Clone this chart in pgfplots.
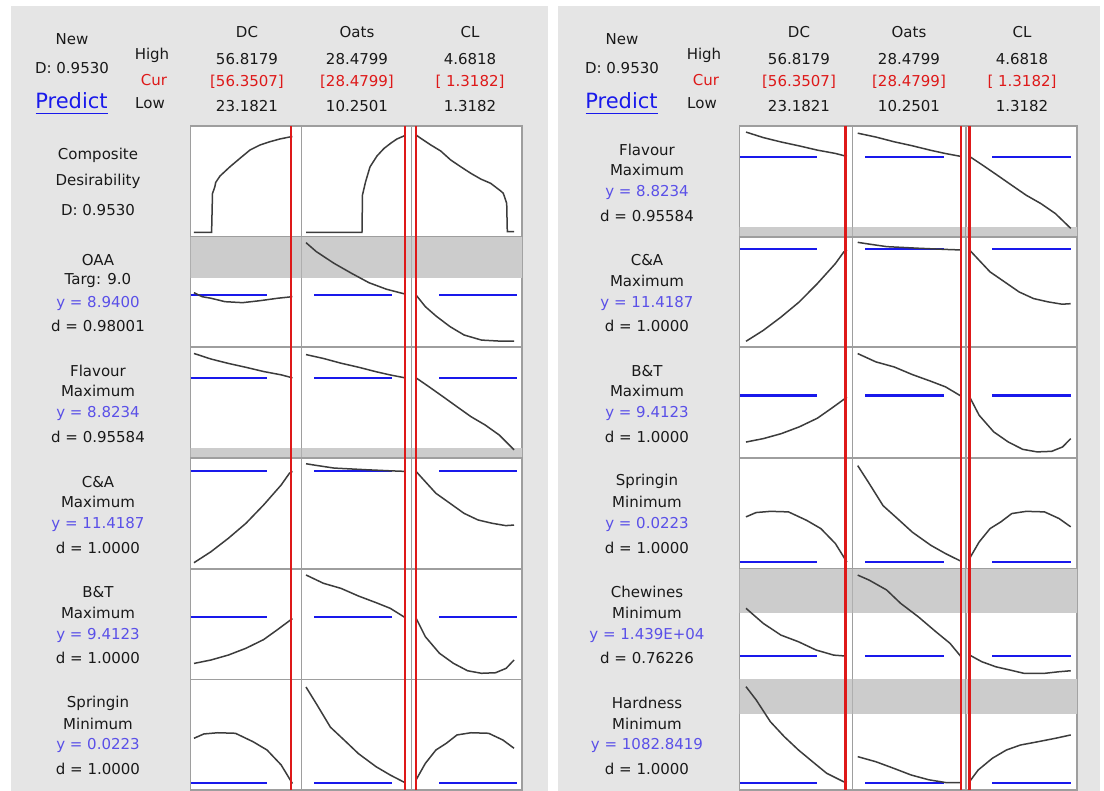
\documentclass[border=0pt]{standalone}
\usepackage{pgfplots}
\pgfplotsset{compat=1.18}
\usepackage{pgfplotstable}
\usepackage{fontspec}
\setmainfont{DejaVu Sans}

\definecolor{panelgray}{RGB}{229,229,229}
\definecolor{framegray}{RGB}{158,158,158}
\definecolor{bandgray}{RGB}{204,204,204}
\definecolor{curvegray}{RGB}{60,60,60}
\definecolor{mtblue}{RGB}{25,25,235}
\definecolor{mtred}{RGB}{222,25,25}
\definecolor{ycol}{RGB}{90,80,232}
\definecolor{txt}{RGB}{25,25,25}

\pgfplotsset{
 cell/.style={scale only axis, height=110.7pt, ymin=0, ymax=1, ticks=none,
   axis line style={draw=framegray, line width=1.8pt},
   axis background/.style={fill=white}, anchor=south west},
 curve/.style={curvegray, line width=1.5pt},
 tgt/.style={mtblue, line width=2.2pt},
 band/.style={fill=bandgray, draw=none},
 redl/.style={mtred, line width=2.4pt},
}

% ---------- data (x in factor units, y as fraction of cell height) ----------
\pgfplotstableread[row sep=\\]{x y\\ 23.18 0.04\\ 29.2 0.04\\ 29.5 0.39\\ 30.3 0.45\\ 30.6 0.49\\ 32.07 0.548\\ 35.49 0.632\\ 38.90 0.708\\ 42.32 0.783\\ 45.74 0.828\\ 49.16 0.858\\ 52.58 0.883\\ 56.35 0.903\\ 56.82 0.905\\}\CompDC
\pgfplotstableread[row sep=\\]{x y\\ 10.25 0.04\\ 20.56 0.04\\ 20.65 0.377\\ 21.21 0.494\\ 22.03 0.63\\ 23.32 0.729\\ 24.61 0.797\\ 25.90 0.846\\ 27.01 0.883\\ 28.48 0.914\\}\CompOats
\pgfplotstableread[row sep=\\]{x y\\ 1.318 0.919\\ 1.479 0.889\\ 1.823 0.829\\ 2.166 0.774\\ 2.509 0.693\\ 2.852 0.632\\ 3.196 0.573\\ 3.539 0.521\\ 3.882 0.482\\ 4.225 0.413\\ 4.314 0.392\\ 4.431 0.302\\ 4.452 0.045\\ 4.682 0.045\\}\CompCL

\pgfplotstableread[row sep=\\]{x y\\ 23.18 0.494\\ 25.94 0.458\\ 28.97 0.444\\ 33.78 0.413\\ 39.76 0.404\\ 45.79 0.422\\ 51.81 0.444\\ 56.82 0.458\\}\OaaDC
\pgfplotstableread[row sep=\\]{x y\\ 10.25 0.946\\ 12.15 0.865\\ 15.39 0.760\\ 18.64 0.669\\ 21.86 0.584\\ 25.09 0.525\\ 28.48 0.482\\}\OaaOats
\pgfplotstableread[row sep=\\]{x y\\ 1.318 0.473\\ 1.638 0.368\\ 2.001 0.284\\ 2.482 0.188\\ 2.966 0.112\\ 3.565 0.066\\ 4.171 0.057\\ 4.682 0.057\\}\OaaCL

\pgfplotstableread[row sep=\\]{x y\\ 23.18 0.945\\ 28.97 0.895\\ 34.95 0.855\\ 40.94 0.82\\ 46.96 0.782\\ 52.98 0.752\\ 56.82 0.725\\}\FlaDC
\pgfplotstableread[row sep=\\]{x y\\ 10.25 0.935\\ 13.46 0.9\\ 16.70 0.857\\ 19.91 0.821\\ 23.16 0.78\\ 25.76 0.751\\ 28.48 0.725\\}\FlaOats
\pgfplotstableread[row sep=\\]{x y\\ 1.318 0.725\\ 1.759 0.645\\ 2.243 0.555\\ 2.724 0.464\\ 3.205 0.374\\ 3.690 0.299\\ 4.171 0.209\\ 4.682 0.075\\}\FlaCL

\pgfplotstableread[row sep=\\]{x y\\ 23.18 0.055\\ 28.97 0.154\\ 34.95 0.276\\ 40.94 0.411\\ 46.96 0.576\\ 52.98 0.757\\ 55.81 0.863\\ 56.82 0.88\\}\CaDC
\pgfplotstableread[row sep=\\]{x y\\ 10.25 0.949\\ 12.15 0.934\\ 15.39 0.91\\ 21.22 0.895\\ 25.76 0.885\\ 28.48 0.88\\}\CaOats
\pgfplotstableread[row sep=\\]{x y\\ 1.318 0.88\\ 1.638 0.787\\ 2.001 0.682\\ 2.482 0.592\\ 2.966 0.501\\ 3.447 0.441\\ 3.932 0.411\\ 4.4 0.39\\ 4.682 0.395\\}\CaCL

\pgfplotstableread[row sep=\\]{x y\\ 23.18 0.145\\ 28.97 0.176\\ 34.95 0.221\\ 40.94 0.282\\ 46.96 0.36\\ 51.81 0.452\\ 55.78 0.53\\ 56.82 0.55\\}\BtDC
\pgfplotstableread[row sep=\\]{x y\\ 10.25 0.944\\ 13.46 0.869\\ 16.70 0.823\\ 19.91 0.754\\ 23.16 0.694\\ 25.76 0.643\\ 28.48 0.56\\}\BtOats
\pgfplotstableread[row sep=\\]{x y\\ 1.318 0.555\\ 1.638 0.387\\ 2.122 0.237\\ 2.603 0.146\\ 3.087 0.079\\ 3.565 0.056\\ 4.049 0.061\\ 4.413 0.101\\ 4.682 0.176\\}\BtCL

\pgfplotstableread[row sep=\\]{x y\\ 23.18 0.469\\ 26.55 0.508\\ 31.32 0.519\\ 37.34 0.514\\ 43.36 0.438\\ 48.14 0.363\\ 52.98 0.228\\ 56.82 0.06\\}\SpDC
\pgfplotstableread[row sep=\\]{x y\\ 10.25 0.932\\ 12.15 0.781\\ 14.73 0.57\\ 17.34 0.45\\ 19.91 0.33\\ 23.16 0.212\\ 25.76 0.137\\ 28.48 0.068\\}\SpOats
\pgfplotstableread[row sep=\\]{x y\\ 1.318 0.092\\ 1.638 0.242\\ 2.001 0.363\\ 2.361 0.424\\ 2.724 0.499\\ 3.205 0.519\\ 3.811 0.514\\ 4.295 0.454\\ 4.682 0.379\\}\SpCL

\pgfplotstableread[row sep=\\]{x y\\ 23.18 0.643\\ 28.93 0.507\\ 34.82 0.401\\ 40.67 0.341\\ 46.56 0.266\\ 52.45 0.22\\ 56.82 0.211\\}\ChDC
\pgfplotstableread[row sep=\\]{x y\\ 10.25 0.943\\ 12.22 0.899\\ 15.34 0.809\\ 17.82 0.688\\ 20.93 0.567\\ 24.03 0.432\\ 26.53 0.327\\ 28.48 0.206\\}\ChOats
\pgfplotstableread[row sep=\\]{x y\\ 1.318 0.221\\ 1.722 0.161\\ 2.189 0.115\\ 2.654 0.086\\ 3.121 0.056\\ 3.827 0.056\\ 4.292 0.07\\ 4.682 0.079\\}\ChCL

\pgfplotstableread[row sep=\\]{x y\\ 23.18 0.935\\ 26.58 0.815\\ 31.29 0.619\\ 35.96 0.483\\ 40.67 0.363\\ 45.38 0.257\\ 50.06 0.153\\ 55.67 0.077\\ 56.82 0.07\\}\HaDC
\pgfplotstableread[row sep=\\]{x y\\ 10.25 0.303\\ 13.46 0.257\\ 16.58 0.198\\ 19.69 0.137\\ 22.79 0.094\\ 25.89 0.068\\ 28.48 0.068\\}\HaOats
\pgfplotstableread[row sep=\\]{x y\\ 1.318 0.077\\ 1.604 0.182\\ 2.075 0.288\\ 2.543 0.363\\ 3.010 0.408\\ 3.595 0.438\\ 4.177 0.469\\ 4.682 0.499\\}\HaCL

% ---------- helpers ----------
\newcommand{\cell}[6]{\begin{axis}[cell, at={(#1pt,#2pt)}, width=#3pt, xmin=#4, xmax=#5]#6\end{axis}}
\newcommand{\cLA}[2]{\cell{190.5}{#1}{111}{21.985}{59.929}{#2}}
\newcommand{\cLB}[2]{\cell{301.5}{#1}{110}{9.4215}{29.677}{#2}}
\newcommand{\cLC}[2]{\cell{411.5}{#1}{110.5}{1.1637}{4.9564}{#2}}
\newcommand{\cRA}[2]{\cell{739.5}{#1}{113}{21.015}{58.685}{#2}}
\newcommand{\cRB}[2]{\cell{852.5}{#1}{113.5}{9.332}{29.362}{#2}}
\newcommand{\cRC}[2]{\cell{966}{#1}{111}{1.2019}{4.8912}{#2}}
\newcommand{\tg}[3]{\addplot[tgt] coordinates {(#1,#3) (#2,#3)};}
\newcommand{\tLA}[1]{\tg{21.985}{48.13}{#1}}
\newcommand{\tLB}[1]{\tg{11.723}{26.086}{#1}}
\newcommand{\tLC}[1]{\tg{2.1076}{4.7848}{#1}}
\newcommand{\tRA}[1]{\tg{21.18}{46.85}{#1}}
\newcommand{\tRB}[1]{\tg{11.538}{25.48}{#1}}
\newcommand{\tRC}[1]{\tg{2.066}{4.692}{#1}}
\newcommand{\bd}[2]{\addplot[band] coordinates {(-100,#1) (100,#1) (100,#2) (-100,#2)};}
\newcommand{\cv}[1]{\addplot[curve] table[x=x,y=y]{#1};}
\newcommand{\redax}[5]{\begin{axis}[hide axis, scale only axis, anchor=south west, at={(#1pt,0.8pt)}, width=#2pt, height=664.2pt, xmin=#3, xmax=#4, ymin=0, ymax=1]\addplot[redl] coordinates {(#5,0) (#5,1)};\end{axis}}

\newcommand{\lab}{\fontsize{15}{18}\selectfont}
\tikzset{t/.style={font=\lab, text=txt, inner sep=0pt, anchor=center}}
\newcommand{\rl}[6]{\begin{scope}[shift={(#1pt,#2pt)}]
 \node[t] at (0pt,-23.5pt) {#3};
 \node[t] at (0pt,-44pt) {#4};
 \node[t,text=ycol] at (0pt,-66.5pt) {#5};
 \node[t] at (0pt,-89.5pt) {#6};\end{scope}}
\newcommand{\hdr}[5]{%
 \node[t] at (#1pt,759.3pt) {#2};
 \node[t] at (#1pt,732.3pt) {#3};
 \node[t,text=mtred] at (#1pt,709.3pt) {#4};
 \node[t] at (#1pt,685pt) {#5};}
\newcommand{\corner}[2]{%
 \node[t] at (#1pt,752pt) {New};
 \node[t] at (#1pt,722.7pt) {D: 0.9530};
 \node[t,font=\fontsize{21}{24}\selectfont,text=mtblue] at ({#1pt-0.5pt},690.5pt) {Predict};
 \draw[mtblue, line width=1.2pt] ({#1pt-36.5pt},677.7pt) -- ({#1pt+36pt},677.7pt);
 \node[t] at (#2pt,736pt) {High};
 \node[t,text=mtred] at ({#2pt+2pt},711pt) {Cur};
 \node[t] at ({#2pt-2pt},687.7pt) {Low};}

\begin{document}
\begin{tikzpicture}
\useasboundingbox (0pt,0pt) rectangle (1104pt,791pt);
\fill[white] (0pt,0pt) rectangle (1104pt,791pt);
\fill[panelgray] (10.5pt,0pt) rectangle (548.3pt,785pt);
\fill[panelgray] (558.3pt,0pt) rectangle (1100pt,785pt);

% ===== left panel =====
\cLA{554.3}{\cv{\CompDC}}
\cLB{554.3}{\cv{\CompOats}}
\cLC{554.3}{\cv{\CompCL}}
\cLA{443.6}{\bd{0.624}{1}\tLA{0.473}\cv{\OaaDC}}
\cLB{443.6}{\bd{0.624}{1}\tLB{0.473}\cv{\OaaOats}}
\cLC{443.6}{\bd{0.624}{1}\tLC{0.473}\cv{\OaaCL}}
\cLA{332.9}{\bd{0}{0.089}\tLA{0.72}\cv{\FlaDC}}
\cLB{332.9}{\bd{0}{0.089}\tLB{0.72}\cv{\FlaOats}}
\cLC{332.9}{\bd{0}{0.089}\tLC{0.72}\cv{\FlaCL}}
\cLA{222.2}{\tLA{0.886}\cv{\CaDC}}
\cLB{222.2}{\tLB{0.886}\cv{\CaOats}}
\cLC{222.2}{\tLC{0.886}\cv{\CaCL}}
\cLA{111.5}{\tLA{0.566}\cv{\BtDC}}
\cLB{111.5}{\tLB{0.566}\cv{\BtOats}}
\cLC{111.5}{\tLC{0.566}\cv{\BtCL}}
\cLA{0.8}{\tLA{0.064}\cv{\SpDC}}
\cLB{0.8}{\tLB{0.064}\cv{\SpOats}}
\cLC{0.8}{\tLC{0.064}\cv{\SpCL}}

% ===== right panel =====
\cRA{554.3}{\bd{0}{0.089}\tRA{0.72}\cv{\FlaDC}}
\cRB{554.3}{\bd{0}{0.089}\tRB{0.72}\cv{\FlaOats}}
\cRC{554.3}{\bd{0}{0.089}\tRC{0.72}\cv{\FlaCL}}
\cRA{443.6}{\tRA{0.886}\cv{\CaDC}}
\cRB{443.6}{\tRB{0.886}\cv{\CaOats}}
\cRC{443.6}{\tRC{0.886}\cv{\CaCL}}
\cRA{332.9}{\tRA{0.566}\cv{\BtDC}}
\cRB{332.9}{\tRB{0.566}\cv{\BtOats}}
\cRC{332.9}{\tRC{0.566}\cv{\BtCL}}
\cRA{222.2}{\tRA{0.064}\cv{\SpDC}}
\cRB{222.2}{\tRB{0.064}\cv{\SpOats}}
\cRC{222.2}{\tRC{0.064}\cv{\SpCL}}
\cRA{111.5}{\bd{0.603}{1}\tRA{0.215}\cv{\ChDC}}
\cRB{111.5}{\bd{0.603}{1}\tRB{0.215}\cv{\ChOats}}
\cRC{111.5}{\bd{0.603}{1}\tRC{0.215}\cv{\ChCL}}
\cRA{0.8}{\bd{0.688}{1}\tRA{0.068}\cv{\HaDC}}
\cRB{0.8}{\bd{0.688}{1}\tRB{0.068}\cv{\HaOats}}
\cRC{0.8}{\bd{0.688}{1}\tRC{0.068}\cv{\HaCL}}

% ===== current-setting lines =====
\redax{190.5}{111}{21.985}{59.929}{56.3507}
\redax{301.5}{110}{9.4215}{29.677}{28.4799}
\redax{411.5}{110.5}{1.1637}{4.9564}{1.3182}
\redax{739.5}{113}{21.015}{58.685}{56.3507}
\redax{852.5}{113.5}{9.332}{29.362}{28.4799}
\redax{966}{111}{1.2019}{4.8912}{1.3182}

% ===== texts left =====
\corner{72}{152}
\hdr{247}{DC}{56.8179}{[56.3507]}{23.1821}
\hdr{357}{Oats}{28.4799}{[28.4799]}{10.2501}
\hdr{470}{CL}{4.6818}{[ 1.3182]}{1.3182}
\node[t] at (98pt,636pt) {Composite};
\node[t] at (98pt,609.3pt) {Desirability};
\node[t] at (98pt,581pt) {D: 0.9530};
\rl{98}{554.3}{OAA}{Targ: 9.0}{y = 8.9400}{d = 0.98001}
\rl{98}{443.6}{Flavour}{Maximum}{y = 8.8234}{d = 0.95584}
\rl{98}{332.9}{C\&A}{Maximum}{y = 11.4187}{d = 1.0000}
\rl{98}{222.2}{B\&T}{Maximum}{y = 9.4123}{d = 1.0000}
\rl{98}{111.5}{Springin}{Minimum}{y = 0.0223}{d = 1.0000}

% ===== texts right =====
\corner{622}{704}
\hdr{799}{DC}{56.8179}{[56.3507]}{23.1821}
\hdr{909}{Oats}{28.4799}{[28.4799]}{10.2501}
\hdr{1022}{CL}{4.6818}{[ 1.3182]}{1.3182}
\rl{647}{665}{Flavour}{Maximum}{y = 8.8234}{d = 0.95584}
\rl{647}{554.3}{C\&A}{Maximum}{y = 11.4187}{d = 1.0000}
\rl{647}{443.6}{B\&T}{Maximum}{y = 9.4123}{d = 1.0000}
\rl{647}{332.9}{Springin}{Minimum}{y = 0.0223}{d = 1.0000}
\rl{647}{222.2}{Chewines}{Minimum}{y = 1.439E+04}{d = 0.76226}
\rl{647}{111.5}{Hardness}{Minimum}{y = 1082.8419}{d = 1.0000}
\end{tikzpicture}
\end{document}
